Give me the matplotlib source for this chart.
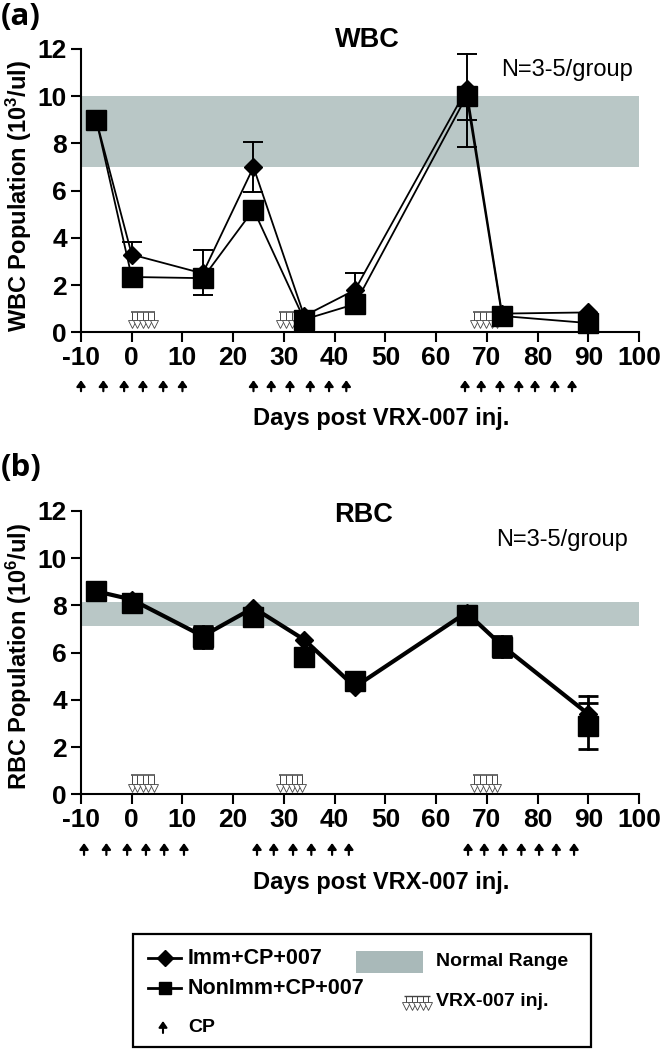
import matplotlib
matplotlib.use('Agg')
import matplotlib.pyplot as plt
from matplotlib.patches import Rectangle

W, H = 661, 1049

days = [-7, 0, 14, 24, 34, 44, 66, 73, 90]

wbc_imm = [9.0, 3.3, 2.5, 7.0, 0.7, 1.8, 10.3, 0.8, 0.85]
wbc_imm_lo = [0, 0, 0, 1.05, 0, 0, 1.3, 0, 0]
wbc_imm_hi = [0, 0.55, 1.0, 1.05, 0, 0.7, 1.5, 0, 0]
wbc_non = [9.0, 2.35, 2.3, 5.2, 0.55, 1.2, 10.0, 0.7, 0.4]
wbc_non_lo = [0, 0, 0.7, 0, 0, 0, 2.15, 0, 0]
wbc_non_hi = [0, 0.4, 0, 0, 0, 0, 0, 0, 0]

rbc_imm = [8.6, 8.25, 6.7, 7.9, 6.55, 4.55, 7.7, 6.3, 3.4]
rbc_imm_lo = [0, 0, 0.45, 0, 0, 0, 0, 0.45, 0.55]
rbc_imm_hi = [0, 0, 0.45, 0, 0, 0, 0, 0.4, 0.75]
rbc_non = [8.6, 8.1, 6.65, 7.5, 5.8, 4.8, 7.6, 6.25, 2.9]
rbc_non_lo = [0, 0, 0.45, 0, 0, 0, 0, 0.45, 1.0]
rbc_non_hi = [0, 0, 0.45, 0, 0, 0, 0, 0.4, 0.95]

wbc_range = (7.0, 10.0)
rbc_range = (7.15, 8.15)

cp_days_a = [-10, -5.6, -1.5, 2.2, 6.2, 10, 24, 27.5, 31.2, 35.2, 38.9, 42.3,
             65.7, 68.9, 72.6, 76.3, 79.5, 83.4, 86.8]
cp_days_b = [-9.4, -5, -0.9, 2.8, 6.4, 10.3, 24.7, 28, 31.8, 35.4, 39.5, 42.8,
             66.3, 69.5, 73.2, 76.8, 80.3, 83.7, 87.2]

inj_groups = [[0, 1.1, 2.2, 3.3, 4.4],
              [29.2, 30.4, 31.6, 32.6, 33.6],
              [67.5, 68.7, 69.9, 71, 72]]

xticks = list(range(-10, 101, 10))
yticks = list(range(0, 13, 2))

band = '#b9c7c6'
band_legend = '#a9b9b9'
inj_col = '#444444'

plt.rcParams['font.family'] = ['Liberation Sans', 'DejaVu Sans']
plt.rcParams['mathtext.fontset'] = 'custom'
plt.rcParams['mathtext.rm'] = 'Liberation Sans:bold'
plt.rcParams['mathtext.bf'] = 'Liberation Sans:bold'
plt.rcParams['mathtext.default'] = 'rm'

fig = plt.figure(figsize=(W / 100, H / 100), dpi=100)


def axes_at(left, right, top, bottom):
    return fig.add_axes([left / W, 1 - bottom / H, (right - left) / W, (bottom - top) / H])


def draw_inj(ax, group, y_top, y_bot):
    ax.hlines(y_top, group[0] - 0.2, group[-1] + 0.2, color=inj_col, lw=1.1, zorder=2)
    ax.vlines(group, y_bot + 0.1, y_top, color=inj_col, lw=0.7, zorder=2)
    ax.plot(group, [y_bot + 0.1] * len(group), ls='none', marker='v', ms=5.5, mfc='white',
            mec=inj_col, mew=0.6, zorder=2, clip_on=False)


def draw_err(ax, y, lo, hi, lw):
    # only the whiskers that show in the picture
    for d, v, a, b in zip(days, y, lo, hi):
        for end in ([v - a] if a else []) + ([v + b] if b else []):
            ax.plot([d, d], [v, end], color='black', lw=lw, zorder=3, clip_on=False)
            ax.plot([d], [end], color='black', marker='_', ms=15, mew=lw, zorder=3,
                    clip_on=False)


def panel(ax, imm, imm_lo, imm_hi, non, non_lo, non_hi, normal, cp_days, lw, non_lw, err_lw,
          y_top, y_bot, tip, tail):
    ax.axhspan(normal[0], normal[1], color=band, lw=0, zorder=1)
    for group in inj_groups:
        draw_inj(ax, group, y_top, y_bot)
    draw_err(ax, imm, imm_lo, imm_hi, err_lw)
    draw_err(ax, non, non_lo, non_hi, err_lw)
    ax.plot(days, imm, color='black', lw=lw, marker='D', ms=9, zorder=4, clip_on=False)
    ax.plot(days, non, color='black', lw=non_lw, marker='s', ms=14, zorder=5, clip_on=False)
    ax.set_xlim(-10, 100)
    ax.set_ylim(0, 12)
    ax.set_xticks(xticks, [str(t) for t in xticks])
    ax.set_yticks(yticks, [str(t) for t in yticks])
    ax.tick_params(width=1.5, length=7, labelsize=19, pad=3)
    for lab in ax.get_xticklabels() + ax.get_yticklabels():
        lab.set_fontweight('bold')
    ax.spines['top'].set_visible(False)
    ax.spines['right'].set_visible(False)
    ax.spines['left'].set_linewidth(1.5)
    ax.spines['bottom'].set_linewidth(1.5)
    # CP arrows under the axis, x in days, y as axes fraction
    trans = ax.get_xaxis_transform()
    for d in cp_days:
        ax.annotate('', xy=(d, tip), xytext=(d, tail), xycoords=trans, textcoords=trans,
                    annotation_clip=False,
                    arrowprops=dict(arrowstyle='-|>,head_width=0.26,head_length=0.36',
                                    color='black', lw=1.6, shrinkA=0, shrinkB=0))


ax_a = axes_at(81, 639, 49, 332.5)
ax_b = axes_at(81, 639, 511, 794.3)
panel(ax_a, wbc_imm, wbc_imm_lo, wbc_imm_hi, wbc_non, wbc_non_lo, wbc_non_hi, wbc_range,
      cp_days_a, 1.3, 1.3, 1.4, 0.87, 0.28, -0.168, -0.207)
panel(ax_b, rbc_imm, rbc_imm_lo, rbc_imm_hi, rbc_non, rbc_non_lo, rbc_non_hi, rbc_range,
      cp_days_b, 3.0, 0, 2.0, 0.82, 0.18, -0.172, -0.214)

# overlay in pixel coordinates for the free text and the legend box
ov = fig.add_axes([0, 0, 1, 1], zorder=10)
ov.patch.set_visible(False)


def label(x, y, s, size, weight='bold', ha='left', rot=0, family=None):
    ov.text(x, y, s, fontsize=size, fontweight=weight, ha=ha, va='center', rotation=rot,
            family=family if family else ['Liberation Sans', 'DejaVu Sans'])


label(1, 17, '(a)', 22.5, family=['Open Sans', 'DejaVu Sans'])
label(1, 468, '(b)', 22.5, family=['Open Sans', 'DejaVu Sans'])
label(367, 40, 'WBC', 19.5, ha='center')
label(364, 515, 'RBC', 19.5, ha='center')
label(501, 70, 'N=3-5/group', 17, weight='normal')
label(496, 540, 'N=3-5/group', 17, weight='normal')
label(381, 419, 'Days post VRX-007 inj.', 17, ha='center')
label(381, 883, 'Days post VRX-007 inj.', 17, ha='center')
label(19, 196, 'WBC Population (10$^{3}$/ul)', 17, ha='center', rot=90)
label(19, 657, 'RBC Population (10$^{6}$/ul)', 17, ha='center', rot=90)

# legend
ov.add_patch(Rectangle((133, 934), 458, 113, fc='white', ec='black', lw=1.6))
ov.plot([148, 181], [958, 958], color='black', lw=2)
ov.plot([164.5], [958], color='black', marker='D', ms=8.5)
ov.plot([148, 181], [988, 988], color='black', lw=2)
ov.plot([164.5], [988], color='black', marker='s', ms=9)
ov.annotate('', xy=(163, 1021), xytext=(163, 1033),
            arrowprops=dict(arrowstyle='-|>,head_width=0.25,head_length=0.36', color='black',
                            lw=1.5, shrinkA=0, shrinkB=0))
label(188, 958, 'Imm+CP+007', 15.5)
label(188, 988, 'NonImm+CP+007', 15.5)
label(188, 1027, 'CP', 14)
ov.add_patch(Rectangle((356, 951), 67, 22, fc=band_legend, ec='none'))
label(436, 962, 'Normal Range', 14)
label(436, 1002, 'VRX-007 inj.', 14)
leg_x = [406, 412, 417, 423, 428]
ov.hlines(996, 404, 430, color=inj_col, lw=1.0)
ov.vlines(leg_x, 996, 1006, color=inj_col, lw=0.7)
ov.plot(leg_x, [1006] * 5, ls='none', marker='v', ms=5.5, mfc='white', mec=inj_col, mew=0.6)
ov.set_xlim(0, W)
ov.set_ylim(H, 0)
ov.axis('off')

fig.savefig('out.png', dpi=100)
